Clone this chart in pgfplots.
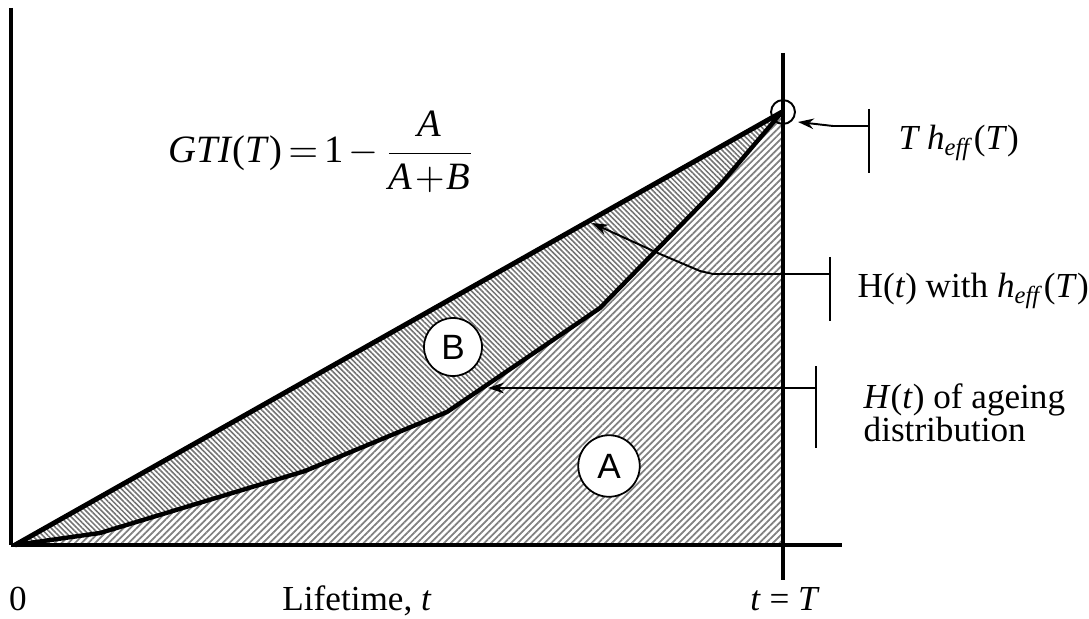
\documentclass[border=0pt]{standalone}
\usepackage{amsmath}
\usepackage{fontspec}
\setmainfont{Liberation Serif}
\newfontfamily\arial{Liberation Sans}
\usepackage{pgfplots}
\pgfplotsset{compat=1.18}
\usetikzlibrary{arrows.meta,patterns.meta}

% diagram drawn in pixel units of the reference, y pointing down
\pgfplotstableread{
x y
15 545
100 533
305 471
447 412
600 308
720 185
782 112
}\ageing

\begin{document}
\begin{tikzpicture}
\begin{axis}[
  name=main,
  scale only axis,
  width=10.89cm, height=6.18cm,
  xmin=0, xmax=1089, ymin=0, ymax=618,
  y dir=reverse,
  hide axis,
  clip=false,
  every axis plot/.append style={line join=round},
  arr/.style={line width=0.55pt, -{Stealth[length=4.5pt,width=3pt]}},
  brk/.style={line width=0.55pt},
]
\addplot[draw=none, forget plot] coordinates {(0,0) (1089,618)};

% area A: under the ageing curve
\addplot[draw=none, pattern={Lines[angle=45,distance=1.35pt,line width=0.5pt]}, pattern color=gray]
  coordinates {(15,545) (100,533) (305,471) (447,412) (600,308) (720,185) (782,112) (782,545)} -- cycle;
% area B: between straight line and ageing curve
\addplot[draw=none, pattern={Lines[angle=-45,distance=1.05pt,line width=0.45pt]}, pattern color=black!55]
  coordinates {(15,545) (782,112) (720,185) (600,308) (447,412) (305,471) (100,533)} -- cycle;

% curves
\addplot[line width=1.25pt] table {\ageing};
\addplot[line width=1.4pt] coordinates {(15,545) (782,112)};

% axes
\addplot[line width=1.4pt] coordinates {(11,8) (11,545)};
\addplot[line width=1.4pt] coordinates {(11,545) (842,545)};
\addplot[line width=1.2pt] coordinates {(783,53) (783,545)};
\addplot[line width=1.0pt] coordinates {(783,545) (783,580)};

% small circle at T h_eff(T)
\addplot[only marks, mark=o, mark size=3.4pt, mark options={line width=0.55pt}] coordinates {(783,112)};

% annotation brackets and arrows
\addplot[brk] coordinates {(869,109) (869,173)};
\addplot[arr] coordinates {(869,126) (833,126) (798,122)};

\addplot[brk] coordinates {(830,257) (830,321)};
\addplot[arr] coordinates {(830,274) (713,274) (700,271) (660,254) (592,223)};

\addplot[brk] coordinates {(816,366) (816,448)};
\addplot[arr] coordinates {(816,388) (488,388)};

% labels
\node[draw, circle, fill=white, line width=0.5pt, minimum size=16.5pt, inner sep=0pt, font=\arial\fontsize{10}{12}\selectfont]
  at (axis cs:453,347) {B};
\node[draw, circle, fill=white, line width=0.5pt, minimum size=17.5pt, inner sep=0pt, font=\arial\fontsize{10}{12}\selectfont]
  at (axis cs:609,466) {A};

\node[anchor=west, inner sep=0pt, font=\fontsize{11}{13}\selectfont] at (axis cs:168,152)
  {$\text{\textit{GTI}(\textit{T})}\mkern3mu{=}\mkern3mu\text{1}\mkern2mu{-}\mkern3mu
    \dfrac{\text{\textit{A}}}{\text{\textit{A}}\mkern1mu{+}\mkern1mu\text{\textit{B}}}$};

\node[anchor=base west, inner sep=0pt, font=\fontsize{10}{12}\selectfont] at (axis cs:898,150)
  {\textit{T h}\textsubscript{\textit{eff}}(\textit{T})};
\node[anchor=base west, inner sep=0pt, font=\fontsize{10}{12}\selectfont] at (axis cs:857,298)
  {H(\textit{t}) with \textit{h}\textsubscript{\textit{eff}}(\textit{T})};
\node[anchor=base west, inner sep=0pt, font=\fontsize{10}{12}\selectfont] at (axis cs:863,408)
  {\textit{H}(\textit{t}) of ageing};
\node[anchor=base west, inner sep=0pt, font=\fontsize{10}{12}\selectfont] at (axis cs:863,441)
  {distribution};

\node[anchor=base, inner sep=0pt, font=\fontsize{10}{12}\selectfont] at (axis cs:18,610) {0};
\node[anchor=base, inner sep=0pt, font=\fontsize{10}{12}\selectfont] at (axis cs:357,610) {Lifetime, \textit{t}};
\node[anchor=base, inner sep=0pt, font=\fontsize{10}{12}\selectfont] at (axis cs:785,610) {\textit{t} = \textit{T}};
\end{axis}
\pgfresetboundingbox
\path (main.south west) rectangle (main.north east);
\end{tikzpicture}
\end{document}
